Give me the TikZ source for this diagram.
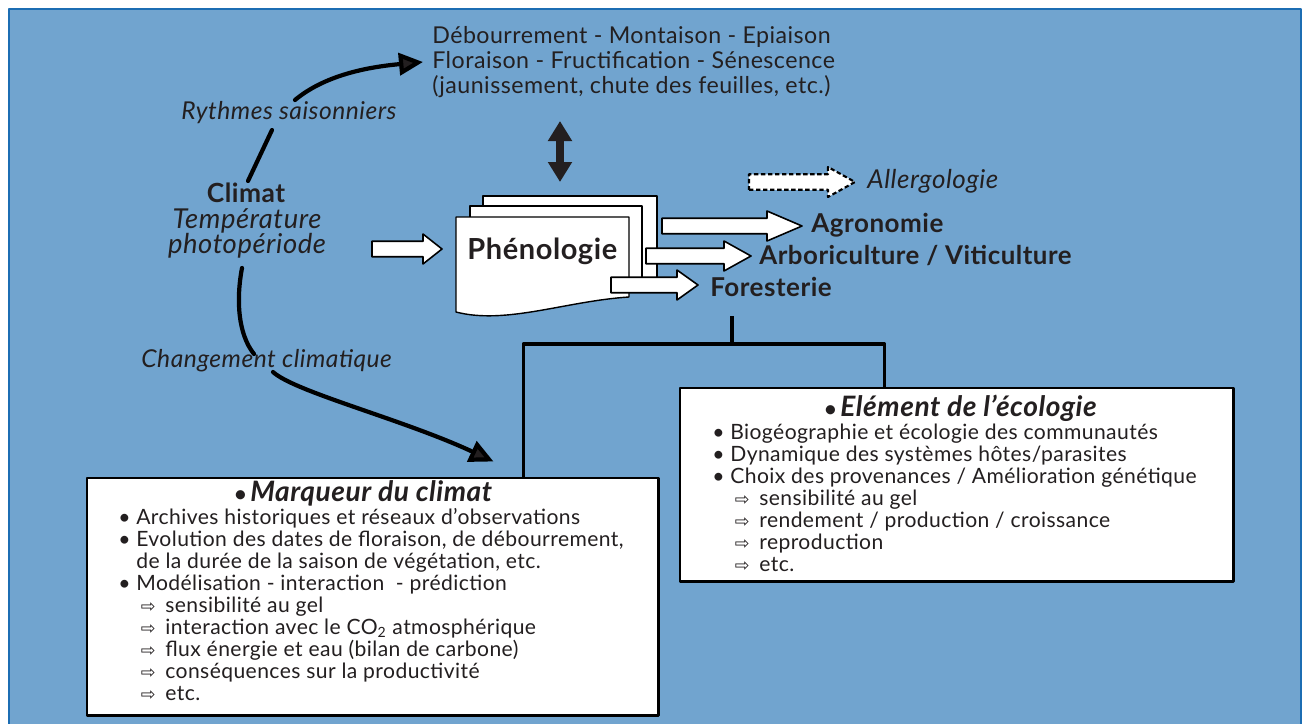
\documentclass[tikz,border=0pt]{standalone}
\usepackage{fontspec}
\setmainfont{Lato}[LetterSpace=2]
\newfontfamily\symb{DejaVu Sans}
\usetikzlibrary{arrows.meta,calc}
\definecolor{fond}{HTML}{71A4CF}
\definecolor{lisere}{HTML}{1C6DB3}
\definecolor{encre}{HTML}{231F20}
\newcommand\taille[1]{\fontsize{#1}{#1}\selectfont}
\newcommand\puce{\makebox[3.6mm][l]{\textbullet}}
\newcommand\gpuce{\makebox[3.2mm][l]{\upshape\taille{12}\textbullet}}
\newcommand\suite{\hspace*{3.6mm}}
\newcommand\fleche{\hspace*{4.5mm}\makebox[4.9mm][l]{\symb\taille{10}⇨}}
\tikzset{
  every picture/.append style={line join=round},
  texte/.style={inner sep=0pt, text=encre},
  trait/.style={line width=2.4pt, line cap=round},
  courbe/.style={trait, -{Triangle[length=4.8mm,width=4.4mm,fill=encre]}},
  vaetvient/.style={line width=4.5pt, draw=encre,
    {Triangle[length=4mm,width=4.6mm]}-{Triangle[length=4mm,width=4.6mm]}},
  tige/.style={line width=2.2pt},
  feuille/.style={draw, fill=white, line width=.8pt},
  cadre/.style={draw, fill=white, line width=1.7pt, inner sep=0pt},
  bloc/.style={draw, fill=white, line width=.9pt, to path={
    let \p1=(\tikztostart), \p2=(\tikztotarget) in
    (\x1,\y2-1.55mm) -- (\x2-#1,\y2-1.55mm) -- (\x2-#1,\y2-3mm) -- (\x2,\y2)
    -- (\x2-#1,\y2+3mm) -- (\x2-#1,\y2+1.55mm) -- (\x1,\y2+1.55mm) -- cycle}}
}

\begin{document}
\begin{tikzpicture}[x=0.2mm,y=-0.2mm]
    \useasboundingbox (0,0) rectangle (1303,724);
    \fill [white] (0,0) rectangle (1303,724);
    \filldraw [fill=fond, draw=lisere, line width=.7pt] (9,9) rectangle (1301,730);

    % climat et phases
    \node [texte, anchor=base, font=\taille{15}\bfseries] (climat) at (246,202) {Climat};
    \node [texte, anchor=base, font=\taille{15.6}\itshape] (temp) at (247,228) {Température};
    \node [texte, anchor=base, font=\taille{15.6}\itshape] (photo) at (247,253) {photopériode};
    \node [texte, anchor=base west, font=\taille{14}\itshape] (rythmes) at (181,119) {Rythmes saisonniers};
    \node [texte, anchor=base west, font=\taille{14}\itshape] (changement) at (141,367) {Changement climatique};
    \foreach \ligne [count=\i] in {{Débourrement - Montaison - Epiaison},
        {Floraison - Fructification - Sénescence},
        {(jaunissement, chute des feuilles, etc.)}}
      \node [texte, anchor=base west, font=\taille{13.2}] (phase-\i) at (432,{43+25*(\i-1)}) {\ligne};

    % debouches
    \node [texte, anchor=base west, font=\taille{14.8}\itshape] (allergo) at (867,188) {Allergologie};
    \node [texte, anchor=base west, font=\taille{14.8}\bfseries] (agro) at (811,232) {Agronomie};
    \node [texte, anchor=base west, font=\taille{14.7}\bfseries] (arbor) at (759,264) {Arboriculture / Viticulture};
    \node [texte, anchor=base west, font=\taille{14.8}\bfseries] (forest) at (710,296) {Foresterie};

    % pile de feuilles
    \coordinate (feuille) at (456,217);
    \draw [feuille] ($(feuille)+(27,-21)$) rectangle ($(feuille)+(201,68)$);
    \draw [feuille] ($(feuille)+(14,-11)$) rectangle ($(feuille)+(186,68)$);
    \draw [feuille] (feuille) -- ++(173,0) -- ++(0,80)
        .. controls ($(feuille)+(110,84)$) and ($(feuille)+(50,108)$) .. ($(feuille)+(0,95)$) -- cycle;
    \node [texte, anchor=base west, font=\taille{16.5}\bfseries] (pheno) at (467,259) {Phénologie};

    \draw [bloc=3.8mm] ($(photo.base)+(125,0)$) to ($(feuille)+(-14,32)$);
    \draw [bloc=7mm] ($(feuille)+(206,0)$) to ($(agro.base west)+(-9,-6)$);
    \draw [bloc=5.4mm] ($(feuille)+(190,0)$) to ($(arbor.base west)+(-8,-8)$);
    \draw [bloc=4.2mm] ($(feuille)+(155,0)$) to ($(forest.base west)+(-12,-11)$);
    \draw [bloc=5.4mm, dash pattern=on 2.5pt off 1.5pt, line width=1.2pt]
        ($(allergo.base west)+(-118,0)$) to ($(allergo.base west)+(-12,-6)$);
    \draw [vaetvient] ($(pheno.base west)+(93,-77)$) -- ($(pheno.base west)+(93,-138)$);

    % cadres
    \node [cadre, minimum width=114.2mm, minimum height=47.4mm] (marqueur) at (372.5,596.5) {};
    \node [cadre, minimum width=110.6mm, minimum height=38.6mm] (ecologie) at (956.5,484.5) {};

    \node [texte, anchor=base west, font=\taille{16}\bfseries\itshape] (titre-marqueur) at (234,501)
        {\gpuce Marqueur du climat};
    \foreach \ligne [count=\i] in {{\puce Archives historiques et réseaux d’observations},
        {\puce Evolution des dates de floraison, de débourrement,},
        {\suite de la durée de la saison de végétation, etc.},
        {\puce Modélisation - interaction \ - prédiction},
        {\fleche sensibilité au gel},
        {\fleche interaction avec le CO\textsubscript{2} atmosphérique},
        {\fleche flux énergie et eau (bilan de carbone)},
        {\fleche conséquences sur la productivité},
        {\fleche etc.}}
      \node [texte, anchor=base west, font=\taille{12}] (marqueur-\i) at (118,{524+22*(\i-1)}) {\ligne};

    \node [texte, anchor=base west, font=\taille{16}\bfseries\itshape] (titre-ecologie) at (824,416)
        {\gpuce Elément de l’écologie};
    \foreach \ligne [count=\i] in {{\puce Biogéographie et écologie des communautés},
        {\puce Dynamique des systèmes hôtes/parasites},
        {\puce Choix des provenances / Amélioration génétique},
        {\fleche sensibilité au gel},
        {\fleche rendement / production / croissance},
        {\fleche reproduction},
        {\fleche etc.}}
      \node [texte, anchor=base west, font=\taille{12}] (ecologie-\i) at (712,{439+22*(\i-1)}) {\ligne};

    % liens
    \draw [trait] ($(climat.base)+(2,-21)$) -- ($(rythmes.base west)+(91,11)$);
    \draw [courbe] ($(rythmes.base west)+(114,-19)$) .. controls +(30,-25) and +(-55,5) .. ($(phase-2.base west)+(-9,-6)$);
    \draw [trait] ($(photo.base)+(-5,15)$) .. controls +(-6,32) and +(-16,-20) .. ($(changement.base west)+(113,-13)$);
    \draw [courbe] ($(changement.base west)+(132,5)$) .. controls +(22,20) and +(-90,-42) .. ($(marqueur.north east)+(-166,-15)$);

    \coordinate (noeud) at ($(forest.base west)+(22,48)$);
    \draw [tige] ($(forest.base west)+(22,20)$) -- (noeud);
    \draw [tige] ($(marqueur.north east)+(-136,0)$) |- (noeud) -| ($(ecologie.north west)+(206,0)$);
\end{tikzpicture}
\end{document}
